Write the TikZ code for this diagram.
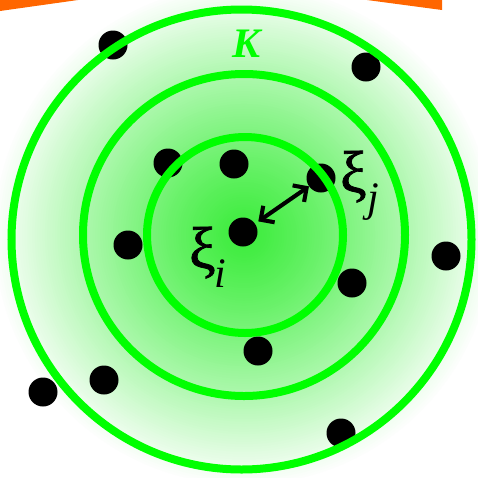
\documentclass[tikz,border=0pt]{standalone}
\usepackage{fontspec}
\setmainfont{Liberation Serif}
\newfontfamily\xifont[FakeBold=1.3]{Liberation Serif}
\usetikzlibrary{arrows.meta}
\definecolor{ringgreen}{RGB}{0,255,0}
\definecolor{orng}{RGB}{255,102,0}
\begin{document}
\begin{tikzpicture}[x=1pt,y=-1pt,
  dot/.style={circle,fill=black,minimum size=29pt,inner sep=0pt},
  ring/.style={draw=ringgreen,line width=8pt},
  dist/.style={{Straight Barb[length=10pt,width=20pt]}-{Straight Barb[length=10pt,width=20pt]},line width=4pt},
  lab/.style={font=\xifont\fontsize{59}{59}\selectfont,inner sep=0pt,anchor=base west},
  sub/.style={font=\fontsize{42}{42}\selectfont\itshape,inner sep=0pt,anchor=base west}]
\clip (0,0) rectangle (478,477);
% orange band
\fill[orng] (0,0) -- (78,0) -- (0,11) -- cycle;
\fill[orng] (367,0) -- (442,0) -- (442,10) -- cycle;
% radial glow
\foreach \k in {0,...,99}{
  \pgfmathsetmacro\rad{252*(1-\k/100)}
  \pgfmathsetmacro\tt{\rad/252}
  \pgfmathtruncatemacro\rb{60+195*pow(\tt,1.2)}
  \pgfmathtruncatemacro\grn{236+19*\tt}
  \fill[fill={rgb,255:red,\rb;green,\grn;blue,\rb}] (244,235) circle (\rad pt);
}
% points
\node[dot] (p1) at (113,45) {};
\node[dot] (p2) at (366,67) {};
\node[dot] (p3) at (168,163) {};
\node[dot] (p4) at (234,164) {};
\node[dot] (j) at (321,178) {};
\node[dot] (c) at (243,232) {};
\node[dot] (p7) at (128,245) {};
\node[dot] (p8) at (446,256) {};
\node[dot] (p9) at (352,283) {};
\node[dot] (p10) at (258,351) {};
\node[dot] (p11) at (104,380) {};
\node[dot] (p12) at (43,392) {};
\node[dot] (p13) at (341,433) {};
% rings
\draw[ring] (241.5,239.5) circle (230pt);
\draw[ring] (244,235) circle (161pt);
\draw[ring] (245,235) circle (98pt);
% distance arrow with shadow
\draw[dist,black,opacity=0.3,xshift=2pt,yshift=-3pt,shorten <=4pt] (c) -- (j);
\draw[dist,shorten <=4pt] (c) -- (j);
% labels
\node[font=\bfseries\itshape\fontsize{42}{42}\selectfont,text=ringgreen,anchor=base,inner sep=0pt] (K) at (247,57) {K};
\node[lab] (xi) at (189,268) {ξ};
\node[sub] (xis) at (214,287) {i};
\node[lab] (xj) at (340,192) {ξ};
\node[sub] (xjs) at (367,211) {j};
\end{tikzpicture}
\end{document}
